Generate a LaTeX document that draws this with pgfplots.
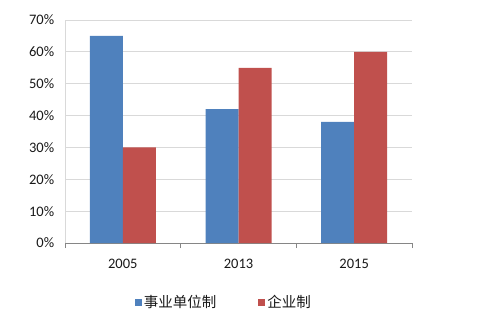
\documentclass[border=0pt]{standalone}
\usepackage{pgfplots}
\pgfplotsset{compat=1.18}
\usepackage{fontspec}
\setmainfont{Carlito}
\newfontfamily\cjk{Noto Sans CJK SC}
\definecolor{xlblue}{RGB}{79,129,189}
\definecolor{xlred}{RGB}{192,80,77}
\definecolor{gridc}{RGB}{217,217,217}
\definecolor{axc}{RGB}{134,134,134}
\begin{document}
\begin{tikzpicture}[x=1pt,y=1pt]
\useasboundingbox (0,0) rectangle (500,322);
\begin{axis}[
  at={(65pt,79pt)}, anchor=south west,
  width=347pt, height=223pt, scale only axis,
  ybar=0pt, bar width=33pt,
  xmin=-0.5, xmax=2.5, ymin=0, ymax=70,
  axis lines*=left,
  x axis line style={draw=axc, line width=0.8pt},
  y axis line style={draw=gridc, line width=0.8pt},
  xtick={0,1,2}, xticklabels={2005,2013,2015},
  major x tick style={draw=none},
  minor xtick={-0.5,0.5,1.5,2.5},
  minor x tick style={draw=axc, line width=0.8pt},
  minor tick length=5pt,
  tick align=outside,
  ytick={0,10,20,30,40,50,60,70},
  yticklabels={0\%,10\%,20\%,30\%,40\%,50\%,60\%,70\%},
  major y tick style={draw=none},
  ymajorgrids, grid style={draw=gridc, line width=0.8pt},
  tick label style={font=\fontsize{14.5}{16}\selectfont, text=black!90},
  yticklabel style={xshift=-3pt},
  xticklabel style={yshift=-8pt},
  legend style={at={(0.458,-0.265)}, anchor=center, draw=none, legend columns=2,
    font=\cjk\fontsize{14.5}{16}\selectfont, text=black!90,
    /tikz/every even column/.append style={column sep=40pt}},
  legend image code/.code={\fill[#1] (0pt,-3.5pt) rectangle (7pt,3.5pt);},
]
\addplot[fill=xlblue, draw=none] coordinates {(0,65) (1,42) (2,38)};
\addplot[fill=xlred, draw=none] coordinates {(0,30) (1,55) (2,60)};
\legend{事业单位制, 企业制}
\end{axis}
\end{tikzpicture}
\end{document}
